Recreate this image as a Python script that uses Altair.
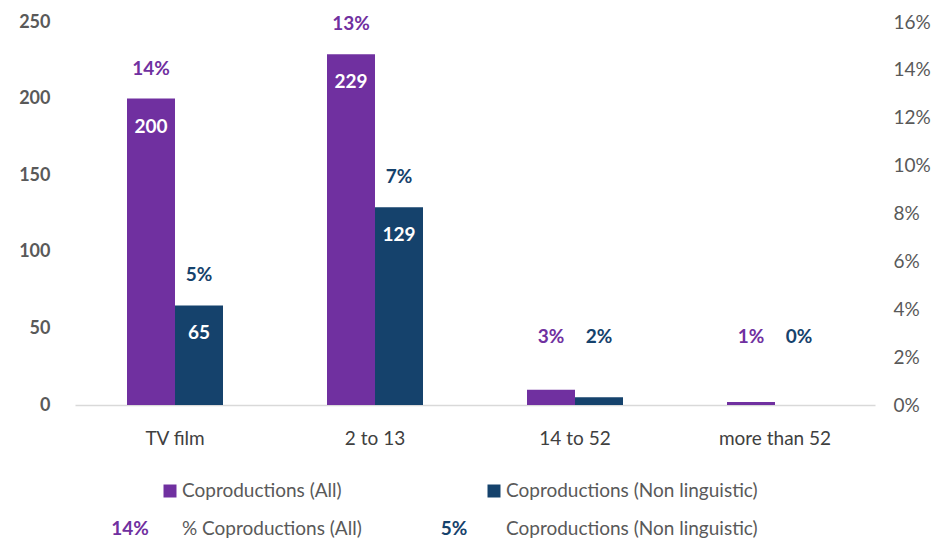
import altair as alt
import pandas as pd

# ---- data ----
categories = ["TV film", "2 to 13", "14 to 52", "more than 52"]
series = ["Coproductions (All)", "Coproductions (Non linguistic)"]
counts_all = [200, 229, 10, 2]
counts_nonling = [65, 129, 5, 0]
pct_all = [0.14, 0.13, 0.03, 0.01]
pct_nonling = [0.05, 0.07, 0.02, 0.00]
pct_ticks = [0, 0.02, 0.04, 0.06, 0.08, 0.10, 0.12, 0.14, 0.16]
count_ticks = [0, 50, 100, 150, 200, 250]

legend_labels = ["Coproductions (All)", "Coproductions (Non linguistic)",
                 "% Coproductions (All)", "Coproductions (Non linguistic)"]
legend_markers = ["", "", "14%", "5%"]
legend_series = [series[0], series[1], series[0], series[1]]
legend_col = [0, 1, 0, 1]
legend_row = [0, 0, 1, 1]

rows = []
for i, c in enumerate(categories):
    rows.append(dict(category=c, series=series[0], count=counts_all[i], pct=pct_all[i]))
    rows.append(dict(category=c, series=series[1], count=counts_nonling[i], pct=pct_nonling[i]))
df = pd.DataFrame(rows)

leg = pd.DataFrame(dict(label=legend_labels, marker=legend_markers, series=legend_series,
                        col=legend_col, row=legend_row))

PURPLE = "#7030A0"
NAVY = "#15426C"
FONT = "Lato"
GRAY = "#595959"
color_scale = alt.Scale(domain=series, range=[PURPLE, NAVY])
count_scale = alt.Scale(domain=[0, 250], nice=False)

x = alt.X("category:N", sort=categories,
          scale=alt.Scale(paddingInner=0.52, paddingOuter=0.26),
          axis=alt.Axis(title=None, labelAngle=0, ticks=False, domainColor="#D9D9D9",
                        domainWidth=1.5, labelFont=FONT, labelFontSize=19,
                        labelColor="#404040", labelPadding=24))
xoff = alt.XOffset("series:N", sort=series, scale=alt.Scale(paddingInner=0, paddingOuter=0))
y_count = alt.Y("count:Q", scale=count_scale,
                axis=alt.Axis(values=count_ticks, title=None, grid=False, domain=False,
                              ticks=False, labelFont=FONT, labelFontSize=18,
                              labelFontWeight="bold", labelColor=GRAY, labelPadding=25,
                              minExtent=67))

base = alt.Chart(df)
bars = base.mark_bar().encode(
    x=x, xOffset=xoff, y=y_count,
    color=alt.Color("series:N", scale=color_scale, legend=None))

nums = base.transform_filter("datum.count >= 20").mark_text(
    dy=28, font=FONT, fontSize=19, fontWeight="bold", color="white"
).encode(x=x, xOffset=xoff, y=alt.Y("count:Q", scale=count_scale, title=None),
         text=alt.Text("count:Q"))

pcts = base.transform_calculate(label_y="max(datum.count, 25)").mark_text(
    dy=-30, font=FONT, fontSize=19, fontWeight="bold"
).encode(x=x, xOffset=xoff, y=alt.Y("label_y:Q", scale=count_scale, title=None),
         text=alt.Text("pct:Q", format=".0%"),
         color=alt.Color("series:N", scale=color_scale, legend=None))

pct_axis = base.mark_point(opacity=0).encode(
    x=x,
    y=alt.Y("pct:Q", scale=alt.Scale(domain=[0, 0.16], nice=False),
            axis=alt.Axis(orient="right", format=".0%", values=pct_ticks, title=None,
                          grid=False, domain=False, ticks=False, labelFont=FONT,
                          labelFontSize=19, labelColor=GRAY, labelPadding=18)))

main = alt.layer(alt.layer(bars, nums, pcts), pct_axis).resolve_scale(
    y="independent").properties(width=800, height=383)

lx = alt.X("col:Q", scale=alt.Scale(domain=[0, 1], range=[95, 419]), axis=None)
ly = alt.Y("row:Q", scale=alt.Scale(domain=[0, 1], range=[8, 46]), axis=None)
lbase = alt.Chart(leg)
squares = lbase.transform_filter("datum.row == 0").mark_square(size=169, opacity=1).encode(
    x=lx, y=ly, color=alt.Color("series:N", scale=color_scale, legend=None))
markers = lbase.transform_filter("datum.row == 1").mark_text(
    dx=-40, font=FONT, fontSize=19, fontWeight="bold").encode(
    x=lx, y=ly, text="marker:N", color=alt.Color("series:N", scale=color_scale, legend=None))
labels = lbase.mark_text(align="left", dx=12, font=FONT, fontSize=19, color=GRAY).encode(
    x=lx, y=ly, text="label:N")
legend = alt.layer(squares, markers, labels).properties(width=800, height=48)

chart = alt.vconcat(main, legend, spacing=34).properties(
    padding={"left": 0, "top": 5, "right": 0, "bottom": 0},
    background="white"
).configure_view(stroke=None)

chart.save("out.html", embed_options={"renderer": "svg", "actions": False})
